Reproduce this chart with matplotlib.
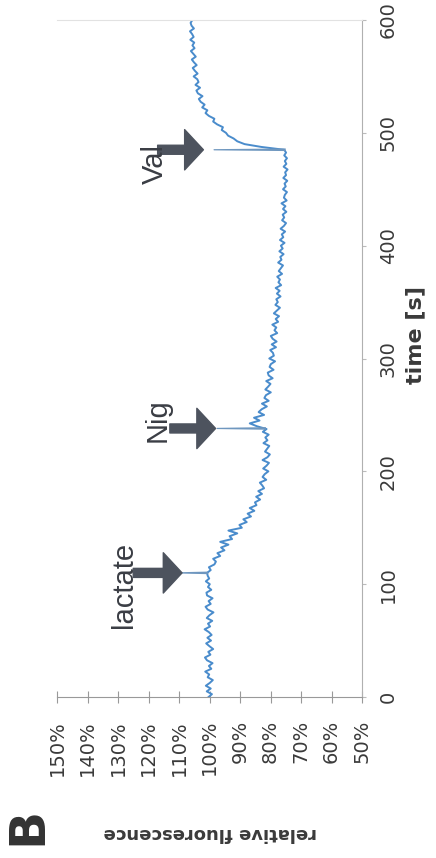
import numpy as np
import matplotlib
matplotlib.use('Agg')
import matplotlib.pyplot as plt

# relative fluorescence [%], every 2.5 s
dt = 2.5
rest = [100.3, 99.2, 100.9, 99.6, 101.2, 99.9, 98.9, 100.6, 100.1, 101.4, 99.4, 100.2, 99.0, 100.8,
        101.5, 99.7, 100.4, 98.8, 100.0, 101.1, 99.5, 100.7, 99.3, 100.2, 101.6, 99.8, 100.5, 99.1,
        100.9, 100.0, 98.7, 100.6, 101.3, 99.6, 100.3, 99.0, 100.8, 101.0, 99.4, 100.5, 99.9, 101.2,
        100.1, 100.6]                      # 0 - 107.5 s
after_lactate = [100.8, 99.6, 100.2, 98.4, 97.9, 98.8, 96.5, 97.4, 95.1, 96.2, 93.8, 96.5, 92.6,
                 93.4, 90.9, 93.8, 89.4, 90.2, 87.8, 88.9, 86.4, 87.5, 85.3, 86.8, 84.6, 85.1, 83.4,
                 84.7, 82.8, 84.0, 82.1, 82.7, 83.5, 81.4, 82.6, 81.9, 80.7, 82.4, 81.3, 80.5, 82.6,
                 81.0, 80.2, 81.8, 81.1, 80.4, 82.3, 81.0, 81.7, 80.6, 82.5, 81.3]   # 110 - 237.5 s
after_nig = [84.5, 86.8, 83.6, 85.4, 82.1, 83.9, 82.9, 81.2, 82.8, 80.6, 82.0, 81.5, 79.9, 81.7,
             80.8, 80.0, 81.4, 79.3, 80.6, 80.9, 79.0, 80.3, 79.9, 78.5,
             80.4, 78.9, 79.2, 80.1, 78.2, 79.6, 78.0, 79.3, 79.9, 77.8,
             78.7, 78.1, 79.4, 77.5, 78.3, 77.2, 78.9, 77.9, 76.9, 78.4,
             77.6, 78.1, 76.7, 77.9, 77.0, 78.3, 76.5, 77.4, 76.9, 77.8,
             76.2, 77.3, 76.6, 75.9, 77.5, 76.4, 76.8, 75.7, 77.1, 76.0,
             76.6, 75.4, 76.9, 75.8, 76.3, 75.2, 76.7, 75.6, 74.9, 76.2,
             75.5, 76.0, 74.8, 75.9, 75.1, 76.4, 74.7, 75.6, 75.3, 74.6,
             75.9, 75.0, 75.4, 74.5, 75.8, 74.9, 75.2, 74.4, 75.7, 74.8,
             75.3, 74.6, 75.5, 74.9]        # 240 - 482.5 s
after_val = [75.5, 83.0, 88.5, 90.9, 92.1, 93.9, 94.6, 96.0, 95.6, 97.5,
             98.8, 98.4, 100.2, 101.3, 100.7, 102.4, 101.6, 102.9, 103.5, 102.3,
             103.8, 104.3, 103.1, 104.6, 103.6, 104.0, 105.2, 103.9, 104.8, 105.5,
             104.2, 105.1, 105.8, 104.5, 105.3, 106.1, 104.9, 105.6, 105.0, 106.3,
             105.2, 105.7, 106.4, 105.1, 105.9, 106.2, 105.6]   # 485 - 600 s

fluor = rest + after_lactate + after_nig + after_val
time_s = np.arange(len(fluor)) * dt

# additions: time, injection spike peak, trace level at that moment
events = ['lactate', 'Nig', 'Val']
event_t = [110, 238, 485]
spike_peak = [110.5, 97.5, 98.5]
spike_base = [100.6, 81.7, 75.2]
arrow_tip = [109, 98, 102]
arrow_tail = [125, 113, 117]
label_pos = [(128.0, 99), (116.9, 245), (117.9, 472)]

fl_ticks = list(range(150, 40, -10))
fl_labels = ['%d%%' % v for v in fl_ticks]
t_ticks = [0, 100, 200, 300, 400, 500, 600]

fig = plt.figure(figsize=(4.36, 8.58), dpi=100)
ax = fig.add_axes([57 / 436, 161 / 858, 305 / 436, 677 / 858])

ax.plot(fluor, time_s, color='#4a8ccc', lw=1.4)
for t, peak, base in zip(event_t, spike_peak, spike_base):
    ax.plot([base, peak, base], [t - 0.6, t, t + 0.6], color='#6f97bf', lw=0.9)

for name, t, tip, tail, (lx, ly) in zip(events, event_t, arrow_tip, arrow_tail, label_pos):
    ax.annotate('', xy=(tip, t), xytext=(tail, t),
                arrowprops=dict(arrowstyle='simple,head_width=2.9,head_length=1.35,tail_width=0.65',
                                mutation_scale=10, color='#4d535e', shrinkA=0, shrinkB=0))
    ax.text(lx, ly, name, rotation=90, ha='center', va='center', fontsize=21,
            color='#3a3d44', family='Liberation Sans')

ax.set_xlim(150, 50)
ax.set_ylim(0, 600)
ax.set_xticks(fl_ticks)
ax.set_xticklabels(fl_labels, rotation=90, va='top')
ax.set_yticks(t_ticks)
ax.yaxis.tick_right()
ax.tick_params(axis='x', direction='inout', length=9, pad=12, labelsize=14,
               colors='#999999', labelcolor='#3a3a3a')
ax.tick_params(axis='y', direction='out', length=3, pad=9, labelsize=14,
               colors='#bbbbbb', labelcolor='#3a3a3a', labelrotation=90)
for lab in ax.get_yticklabels():
    lab.set_va('center')
    lab.set_ha('left')

ax.spines['left'].set_visible(False)
ax.spines['bottom'].set_color('#999999')
ax.spines['right'].set_color('#b0b0b0')
ax.spines['top'].set_color('#e2e2e2')

fig.text(415 / 436, 1 - 335 / 858, 'time [s]', rotation=90, ha='center', va='center',
         fontsize=16, fontweight='bold', color='#3a3a3a')
fig.text(210 / 436, 1 - 833 / 858, 'relative fluorescence', rotation=180, ha='center',
         va='center', fontsize=13, fontweight='bold', color='#3a3a3a')
fig.text(27 / 436, 1 - 826 / 858, 'B', rotation=90, ha='center', va='center',
         fontsize=36, fontweight='bold', color='#333333')

fig.savefig('out.png', dpi=100)
